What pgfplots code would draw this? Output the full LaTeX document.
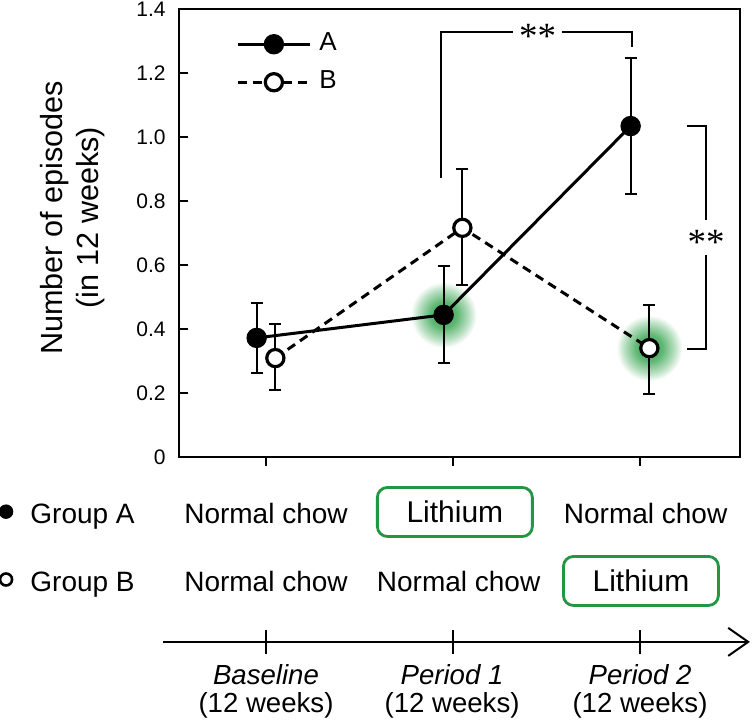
\documentclass[border=0pt]{standalone}
\usepackage{fontspec}
\setmainfont{Liberation Sans}
\newfontfamily\serifast{Liberation Serif}
\usepackage{pgfplots}
\pgfplotsset{compat=1.18}
\usetikzlibrary{arrows.meta}
\definecolor{glowc}{RGB}{55,165,80}
\definecolor{lithgreen}{RGB}{35,150,65}
\pgfdeclareradialshading{glowshade}{\pgfpointorigin}{color(0bp)=(glowc); color(10bp)=(glowc!80!white); color(19bp)=(glowc!35!white); color(25bp)=(white); color(50bp)=(white)}
\pgfdeclareplotmark{glow}{\pgfpathcircle{\pgfpointorigin}{\pgfplotmarksize}\pgfshadepath{glowshade}{0}\pgfusepath{discard}}
\begin{document}
\begin{tikzpicture}
\begin{axis}[
  clip marker paths=true,
  scale only axis, width=280.5pt, height=224pt,
  xmin=-0.465, xmax=2.535, ymin=0, ymax=1.4,
  clip=false,
  axis line style={line width=1.2pt},
  xtick=\empty,
  ytick={0,0.2,0.4,0.6,0.8,1.0,1.2,1.4},
  yticklabels={0,0.2,0.4,0.6,0.8,1.0,1.2,1.4},
  ytick pos=left,
  tick align=inside,
  major tick length=4.7pt,
  tick style={line width=1.2pt, black},
  yticklabel style={font=\fontsize{10.5}{12}\selectfont, inner sep=0pt, xshift=-6.5pt},
  /pgf/number format/assume math mode=true,
  legend style={draw=none, fill=none, at={(axis cs:-0.1604,1.33)}, anchor=north west,
    font=\fontsize{13}{15}\selectfont, inner sep=0pt, row sep=6.5pt, column sep=4pt,
    nodes={inner sep=0pt, text height=9.5pt, text depth=3pt}},
  legend cell align=left,
  legend image code/.code={\draw[mark repeat=2,mark phase=2] plot coordinates {(0pt,0pt)(18pt,0pt)(36pt,0pt)};},
]
% green glows
\addplot[only marks, mark=glow, mark size=16.5pt, forget plot] coordinates {(0.95,0.444) (2.05,0.340)};
% Group A
\addplot[black, line width=1.5pt, mark=*, mark size=4.6pt, mark options={solid, fill=black, line width=1pt},
  error bars/.cd, y dir=both, y explicit,
  error bar style={line width=1pt, solid}, error mark options={rotate=90, mark size=3pt, line width=1pt}]
  coordinates {(-0.05,0.372) +- (0,0.11) (0.95,0.444) += (0,0.154) -= (0,0.151) (1.95,1.034) +- (0,0.213)};
\addlegendentry{A}
% Group B
\addplot[black, line width=1.5pt, dash pattern=on 4.5pt off 3pt, mark=*, mark size=4.3pt, mark options={solid, fill=white, line width=1.6pt},
  error bars/.cd, y dir=both, y explicit,
  error bar style={line width=1pt, solid}, error mark options={rotate=90, mark size=3pt, line width=1pt}]
  coordinates {(0.05,0.309) += (0,0.107) -= (0,0.100) (1.05,0.716) += (0,0.183) -= (0,0.180) (2.05,0.340) += (0,0.135) -= (0,0.144)};
\addlegendentry{B}
% significance brackets
\draw[line width=0.9pt] (axis cs:0.936,0.872) |- (axis cs:1.321,1.328);
\draw[line width=0.9pt] (axis cs:1.583,1.328) -| (axis cs:1.957,1.281);
\node[font=\serifast\fontsize{18.5}{20}\selectfont, anchor=base, inner sep=0pt] at (axis cs:1.452,1.275) {**};
\draw[line width=0.9pt] (axis cs:2.251,1.034) -| (axis cs:2.353,0.741);
\draw[line width=0.9pt] (axis cs:2.353,0.631) |- (axis cs:2.251,0.3375);
\node[font=\serifast\fontsize{18.5}{20}\selectfont, anchor=base, inner sep=0pt] at (axis cs:2.353,0.634) {**};
% y label
\node[rotate=90, align=center, font=\fontsize{15.3}{18}\selectfont] at (axis cs:-1.037,0.747) {Number of episodes\\(in 12 weeks)};
% group rows
\addplot[only marks, mark=*, mark size=3.4pt, mark options={fill=black, draw=black}, forget plot] coordinates {(-1.39,-0.171)};
\addplot[only marks, mark=*, mark size=3.0pt, mark options={fill=white, draw=black, line width=1.3pt}, forget plot] coordinates {(-1.39,-0.383)};
\begin{scope}[every node/.style={font=\fontsize{14}{16}\selectfont, inner sep=0pt}]
\node[anchor=base west] at (axis cs:-1.262,-0.209) {Group A};
\node[anchor=base west] at (axis cs:-1.262,-0.419) {Group B};
\node[anchor=base] at (axis cs:0,-0.209) {Normal chow};
\node[anchor=base] at (axis cs:2.03,-0.209) {Normal chow};
\node[anchor=base] at (axis cs:0,-0.419) {Normal chow};
\node[anchor=base] at (axis cs:1.03,-0.419) {Normal chow};
\node[draw=lithgreen, line width=1.4pt, rounded corners=5pt, minimum width=77.5pt, minimum height=24.5pt, font=\fontsize{15}{17}\selectfont] at (axis cs:1.01,-0.172) {Lithium};
\node[draw=lithgreen, line width=1.4pt, rounded corners=5pt, minimum width=77.5pt, minimum height=24.5pt, font=\fontsize{15}{17}\selectfont] at (axis cs:2.005,-0.3875) {Lithium};
\end{scope}
% time arrow
\draw[line width=1pt, -{Straight Barb[length=10pt,width=14pt,line width=1pt]}] (axis cs:-0.551,-0.578) -- (axis cs:2.588,-0.578);
\pgfplotsinvokeforeach{0,1,2}{\draw[line width=1pt] (axis cs:#1,-0.541) -- (axis cs:#1,-0.616);}
\begin{scope}[every node/.style={font=\fontsize{13.8}{16}\selectfont, inner sep=0pt, anchor=base}]
\node at (axis cs:0,-0.7125) {\itshape Baseline};
\node at (axis cs:0.995,-0.7125) {\itshape Period 1};
\node at (axis cs:2,-0.7125) {\itshape Period 2};
\node at (axis cs:0,-0.80) {(12 weeks)};
\node at (axis cs:0.995,-0.80) {(12 weeks)};
\node at (axis cs:2,-0.80) {(12 weeks)};
\end{scope}
% x ticks of the plot (outside)
\pgfplotsinvokeforeach{0,1,2}{\draw[line width=1.2pt] (axis cs:#1,0) -- (axis cs:#1,-0.028);}
\coordinate (bbSW) at (axis cs:-1.4225,-0.8375);
\coordinate (bbNE) at (axis cs:2.599,1.428);
\end{axis}
\pgfresetboundingbox
\path[use as bounding box] (bbSW) rectangle (bbNE);
\end{tikzpicture}
\end{document}
